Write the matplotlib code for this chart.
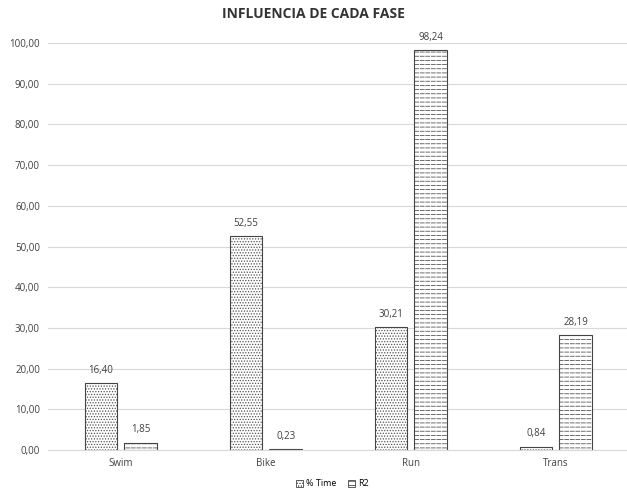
import matplotlib.pyplot as plt
import numpy as np

plt.rcParams['font.family'] = ['Open Sans', 'DejaVu Sans']
plt.rcParams['hatch.linewidth'] = 0.6

# datos por fase
fases = ["Swim", "Bike", "Run", "Trans"]
pct_time = [16.40, 52.55, 30.21, 0.84]
r2 = [1.85, 0.23, 98.24, 28.19]
yticks = np.arange(0, 101, 10)

fig = plt.figure(figsize=(6.27, 4.94), dpi=100)
ax = fig.add_axes([0.077, 0.089, 0.925, 0.824])

x = np.arange(len(fases))
w = 0.226
gap = 0.024
x1 = x - w / 2 - gap
x2 = x + w / 2 + gap

b1 = ax.bar(x1, pct_time, w, color='white', edgecolor='#555555',
            linewidth=0, hatch='......', label='% Time')
b2 = ax.bar(x2, r2, w, color='white', edgecolor='#555555',
            linewidth=0, hatch='----', label='R2')
# cortes blancos para que las rayas queden discontinuas
ax.bar(x2, r2, w, color='none', edgecolor='white', linewidth=0, hatch='|||')
# bordes
ax.bar(x1, pct_time, w, color='none', edgecolor='#444444', linewidth=0.8)
ax.bar(x2, r2, w, color='none', edgecolor='#444444', linewidth=0.8)

def fmt(v):
    return f"{v:.2f}".replace('.', ',')

for bars, vals in ((b1, pct_time), (b2, r2)):
    for b, v in zip(bars, vals):
        ax.text(b.get_x() + b.get_width() / 2, v + 1.8, fmt(v),
                ha='center', va='bottom', fontsize=7, color='#404040')

ax.set_xlim(-0.5, len(fases) - 0.5)
ax.set_ylim(0, 100)
ax.set_yticks(yticks)
ax.set_yticklabels([fmt(t) for t in yticks], fontsize=7, color='#404040')
ax.set_xticks(x)
ax.set_xticklabels(fases, fontsize=7, color='#404040')
ax.tick_params(length=0, pad=6)
ax.grid(axis='y', color='#d9d9d9', linewidth=0.8)
ax.set_axisbelow(True)
for s in ['top', 'right', 'left']:
    ax.spines[s].set_visible(False)
ax.spines['bottom'].set_color('#d9d9d9')

fig.suptitle("INFLUENCIA DE CADA FASE", y=0.985, fontsize=10, fontweight='bold',
             color='#333333')
h1 = plt.Rectangle((0, 0), 1, 1, facecolor='white', edgecolor='#444444',
                   linewidth=0.6, hatch='......')
h2 = plt.Rectangle((0, 0), 1, 1, facecolor='white', edgecolor='#444444',
                   linewidth=0.6, hatch='----')
fig.legend(handles=[h1, h2], labels=['% Time', 'R2'], loc='lower center',
           ncol=2, frameon=False, fontsize=6.5, bbox_to_anchor=(0.53, -0.005),
           handlelength=0.8, handleheight=0.8, columnspacing=1.2,
           handletextpad=0.4)

fig.savefig("out.png", dpi=100)
